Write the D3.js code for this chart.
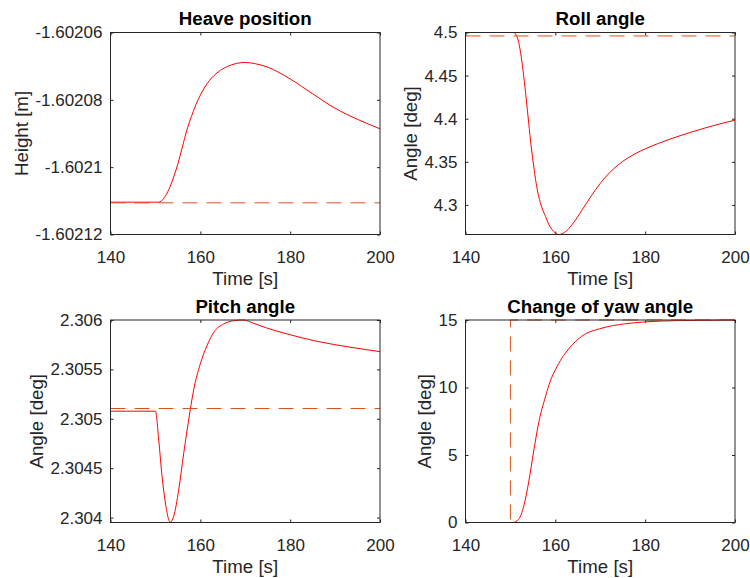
<!DOCTYPE html>
<html>
<head>
<meta charset="utf-8">
<script src="https://cdn.jsdelivr.net/npm/d3@7"></script>
<style>
  body { margin: 0; background: #fff; }
  svg { display: block; font-family: "Liberation Sans", Arial, Helvetica, sans-serif; }
</style>
</head>
<body>
<svg id="chart" width="750" height="578"></svg>
<script>
// ---- shared time axis ----
const timeDomain = [140, 200];
const timeTicks = [140, 160, 180, 200];
const timeTickLabels = ["140", "160", "180", "200"];

// ---- heave position ----
const heaveTime = [140, 150.7, 152, 153, 154, 155, 156, 157, 158, 159, 160, 161, 162, 164, 166, 168, 170, 172, 175, 180, 185, 190, 195, 200];
const heaveHeight = [-1.6021104, -1.6021104, -1.6021090, -1.6021066, -1.6021032, -1.6020990, -1.6020940, -1.6020890, -1.6020850,
  -1.6020815, -1.6020786, -1.6020762, -1.6020743, -1.6020717, -1.6020701, -1.6020692, -1.6020689, -1.6020692, -1.6020703,
  -1.6020738, -1.6020782, -1.6020825, -1.6020858, -1.6020886];
const heaveRefTime = [140, 200];
const heaveRefHeight = [-1.6021106, -1.6021106];
const heaveDomain = [-1.60212, -1.60206];
const heaveTicks = [-1.60212, -1.6021, -1.60208, -1.60206];
const heaveTickLabels = ["-1.60212", "-1.6021", "-1.60208", "-1.60206"];

// ---- roll angle ----
const rollTime = [140, 150.7, 151.3, 151.85, 152.4, 152.96, 153.5, 154.07, 154.6, 155.19, 155.7, 156.3, 157, 157.8, 158.5, 159.26,
  160, 160.74, 162, 164, 166, 168, 170, 172, 174, 176, 178, 180, 183, 186, 190, 195, 200];
const rollAngle = [4.5, 4.5, 4.497, 4.4884, 4.472, 4.4496, 4.424, 4.3953, 4.369, 4.345, 4.326, 4.310, 4.297, 4.2868, 4.278, 4.2713,
  4.2675, 4.2657, 4.2680, 4.2790, 4.2945, 4.3105, 4.3250, 4.3370, 4.3465, 4.3540, 4.3600, 4.3650, 4.3715, 4.3772, 4.3840,
  4.3917, 4.3984];
const rollRefTime = [140, 200];
const rollRefAngle = [4.496, 4.496];
const rollDomain = [4.2657, 4.5];
const rollTicks = [4.3, 4.35, 4.4, 4.45, 4.5];
const rollTickLabels = ["4.3", "4.35", "4.4", "4.45", "4.5"];

// ---- pitch angle ----
const pitchTime = [140, 150, 150.74, 151.48, 152.22, 152.96, 153.33, 154.07, 155.19, 156.3, 157.4, 158.5, 160, 161.5, 163, 165.2,
  167.4, 169.5, 171.9, 174.8, 179.3, 185.9, 193.3, 200];
const pitchAngle = [2.305077, 2.305077, 2.304785, 2.304416, 2.304148, 2.303980, 2.303953, 2.304013, 2.304282, 2.304651, 2.304987,
  2.305289, 2.305557, 2.305742, 2.305876, 2.305960, 2.305993, 2.306, 2.305966, 2.305919, 2.305859, 2.305785, 2.305725, 2.305680];
const pitchRefTime = [140, 200];
const pitchRefAngle = [2.305104, 2.305104];
const pitchDomain = [2.30395, 2.306];
const pitchTicks = [2.304, 2.3045, 2.305, 2.3055, 2.306];
const pitchTickLabels = ["2.304", "2.3045", "2.305", "2.3055", "2.306"];

// ---- change of yaw angle ----
const yawTime = [140, 150.5, 151.85, 152.96, 154.07, 155.19, 156.3, 157.78, 158.9, 160, 161.5, 162.96, 165.9, 170.4, 175.6, 180,
  186.7, 194.1, 200];
const yawAngle = [0, 0, 0.25, 1.2, 3.0, 5.3, 7.4, 9.3, 10.5, 11.3, 12.2, 12.85, 13.8, 14.4, 14.72, 14.86, 14.95, 14.98, 15];
const yawRefTime = [140, 150, 150, 200];
const yawRefAngle = [0, 0, 15, 15];
const yawDomain = [0, 15];
const yawTicks = [0, 5, 10, 15];
const yawTickLabels = ["0", "5", "10", "15"];

// ---- styling / layout ----
const lineColor = "#ff0000";
const refColor = "#d95319";
const inkColor = "#262626";
const tickFont = 17;
const labelFont = 18.7;

const cols = [[110.5, 380], [465.5, 735]];
const rows = [[32.5, 234.5], [320, 522.5]];

const panels = [
  { title: "Heave position", ylabel: "Height [m]", col: 0, row: 0, domain: heaveDomain, ticks: heaveTicks, tickLabels: heaveTickLabels,
    t: heaveTime, v: heaveHeight, rt: heaveRefTime, rv: heaveRefHeight },
  { title: "Roll angle", ylabel: "Angle [deg]", col: 1, row: 0, domain: rollDomain, ticks: rollTicks, tickLabels: rollTickLabels,
    t: rollTime, v: rollAngle, rt: rollRefTime, rv: rollRefAngle },
  { title: "Pitch angle", ylabel: "Angle [deg]", col: 0, row: 1, domain: pitchDomain, ticks: pitchTicks, tickLabels: pitchTickLabels,
    t: pitchTime, v: pitchAngle, rt: pitchRefTime, rv: pitchRefAngle },
  { title: "Change of yaw angle", ylabel: "Angle [deg]", col: 1, row: 1, domain: yawDomain, ticks: yawTicks, tickLabels: yawTickLabels,
    t: yawTime, v: yawAngle, rt: yawRefTime, rv: yawRefAngle }
];

const svg = d3.select("#chart");

panels.forEach((p, i) => {
  const [x0, x1] = cols[p.col];
  const [y0, y1] = rows[p.row];
  const x = d3.scaleLinear().domain(timeDomain).range([x0, x1]);
  const y = d3.scaleLinear().domain(p.domain).range([y1, y0]);
  const g = svg.append("g");

  const clipId = "clip" + i;
  svg.append("clipPath").attr("id", clipId)
    .append("rect").attr("x", x0 - 1).attr("y", y0 - 1).attr("width", x1 - x0 + 2).attr("height", y1 - y0 + 2);

  const styleAxis = (sel, fs) => {
    sel.select(".domain").remove();
    sel.selectAll("line").attr("stroke", inkColor).attr("stroke-width", 1);
    sel.selectAll("text").attr("fill", inkColor).attr("font-size", fs)
      .attr("font-family", "'Liberation Sans', Arial, Helvetica, sans-serif");
    sel.attr("font-size", null).attr("font-family", null);
  };

  // axes with inward ticks on all four sides
  const xb = g.append("g").attr("transform", `translate(0,${y1})`)
    .call(d3.axisBottom(x).tickValues(timeTicks).tickFormat((d, k) => timeTickLabels[k]).tickSize(-3).tickPadding(16));
  styleAxis(xb, tickFont);
  const xt = g.append("g").attr("transform", `translate(0,${y0})`)
    .call(d3.axisTop(x).tickValues(timeTicks).tickFormat("").tickSize(-3));
  styleAxis(xt, tickFont);
  const yl = g.append("g").attr("transform", `translate(${x0},0)`)
    .call(d3.axisLeft(y).tickValues(p.ticks).tickFormat((d, k) => p.tickLabels[k]).tickSize(-3).tickPadding(8));
  styleAxis(yl, tickFont);
  const yr = g.append("g").attr("transform", `translate(${x1},0)`)
    .call(d3.axisRight(y).tickValues(p.ticks).tickFormat("").tickSize(-3));
  styleAxis(yr, tickFont);

  // series
  const plot = g.append("g").attr("clip-path", `url(#${clipId})`);
  const solid = d3.line().x((d, k) => x(p.t[k])).y(d => y(d)).curve(d3.curveMonotoneX);
  const ref = d3.line().x((d, k) => x(p.rt[k])).y(d => y(d)).curve(d3.curveLinear);
  plot.append("path").attr("d", solid(p.v)).attr("fill", "none").attr("stroke", lineColor).attr("stroke-width", 1);
  plot.append("path").attr("d", ref(p.rv)).attr("fill", "none").attr("stroke", refColor).attr("stroke-width", 1)
    .attr("stroke-dasharray", "15,9");

  // frame
  g.append("rect").attr("x", x0).attr("y", y0).attr("width", x1 - x0).attr("height", y1 - y0)
    .attr("fill", "none").attr("stroke", inkColor).attr("stroke-width", 1);

  // title
  g.append("text").attr("x", (x0 + x1) / 2).attr("y", y0 - 7.5).attr("text-anchor", "middle")
    .attr("font-size", labelFont).attr("font-weight", "bold").attr("fill", "#000").text(p.title);

  // x label
  g.append("text").attr("x", (x0 + x1) / 2).attr("y", y1 + 50.5).attr("text-anchor", "middle")
    .attr("font-size", labelFont).attr("fill", inkColor).text("Time [s]");

  // y label, placed just left of the widest tick label
  let maxW = 0;
  yl.selectAll("text").each(function () { maxW = Math.max(maxW, this.getComputedTextLength()); });
  const lx = x0 - 8 - maxW - 7.5;
  const ly = (y0 + y1) / 2;
  g.append("text").attr("transform", `translate(${lx},${ly}) rotate(-90)`).attr("text-anchor", "middle")
    .attr("font-size", labelFont).attr("fill", inkColor).text(p.ylabel);
});
</script>
</body>
</html>
